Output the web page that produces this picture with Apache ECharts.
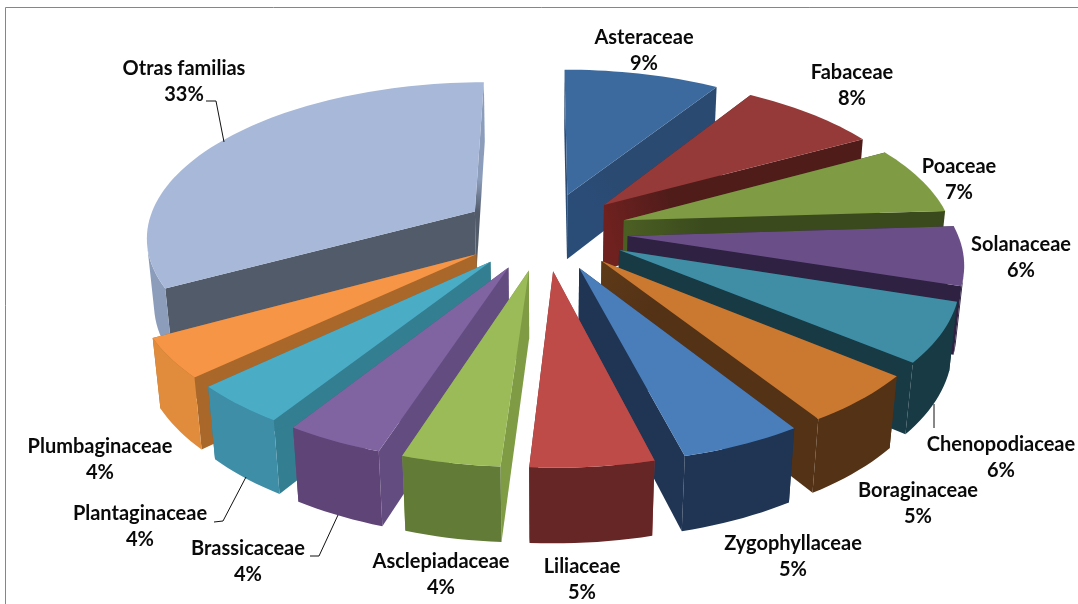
<!DOCTYPE html>
<html><head><meta charset="utf-8">
<style>html,body{margin:0;padding:0;background:#fff}#c{width:1078px;height:604px}</style>
<script src="https://cdn.jsdelivr.net/npm/echarts@6/dist/echarts.min.js"></script>
</head><body><div id="c"></div>
<script>
// ---- data
var families = ['Asteraceae','Fabaceae','Poaceae','Solanaceae','Chenopodiaceae','Boraginaceae','Zygophyllaceae','Liliaceae','Asclepiadaceae','Brassicaceae','Plantaginaceae','Plumbaginaceae','Otras familias'];
var percents = [9,8,7,6,6,5,5,5,4,4,4,4,33];
// ---- colours
var topColors   = ['#3d6a9e','#953a38','#7f9c45','#6a4e87','#3f8ea6','#cb7931','#4a7ebb','#be4b48','#9bbb59','#8064a2','#4bacc6','#f59545','#a8b8d8'];
var startColors = ['#2a4a72','#4f1c1a','#3a4a1d','#2f2141','#173a44','#543216','#1f3553','#a0403d','#7f9c45','#634d80','#337e90','#a9672a','#525b6a'];
var endColors   = ['#2a4a72','#4f1c1a','#3a4a1d','#2f2141','#173a44','#543216','#1f3553','#6b2524','#7f9c45','#634d80','#337e90','#a9672a','#8c9dbc'];
var apexColors  = ['#2a4d78','#6e211f','#4c5f23','#2f2141','#173a44','#5e3a18','#1f3553','#a0403d','#7f9c45','#634d80','#337e90','#a9672a','#525b6a'];
var outerColors = ['#2a4a72','#4f1c1a','#3a4a1d','#2f2141','#173a44','#543216','#1f3553','#662626','#627c38','#5f4577','#3f8ea8','#e08c3c','#8c9dbc'];
// ---- layout
var cx = 545, cy = 231, radius = 329, explode = 83, height = 76;
var tilt = 27.9 * Math.PI / 180, camDist = 1950;
var labelCenters = [[644,51],[852,86],[959,180],[1021,258],[1001,458],[918,504],[793,557],[582,580],[441,575],[248,562],[140,527],[100,460],[184,82]];
var leaders = [[[224,142],[216,101],[206,101]],[[934,404],[934,428]],[[246,477],[223,521],[214,522]],[[338,515],[319,556],[310,556]]];

function project(X, Y, Z) {
  var yv = Z * Math.sin(tilt) + Y * Math.cos(tilt);
  var d = camDist + Z * Math.cos(tilt) - Y * Math.sin(tilt);
  var s = camDist / d;
  return [cx + X * s, cy - yv * s];
}
var total = percents.reduce(function (a, b) { return a + b; }, 0);
var cum = 0;
var slices = percents.map(function (v, i) {
  var a0 = cum / total * 2 * Math.PI; cum += v;
  var a1 = cum / total * 2 * Math.PI;
  return { a0: a0, a1: a1, mid: (a0 + a1) / 2, i: i };
});
function poly(points, fill, z2) {
  return { type: 'polygon', z2: z2, shape: { points: points }, style: { fill: fill }, silent: true };
}
function signedArea(p) {
  var s = 0;
  for (var i = 0; i < p.length; i++) {
    var q = p[(i + 1) % p.length];
    s += p[i][0] * q[1] - q[0] * p[i][1];
  }
  return s;
}
function cutFace(apexTop, outerTop, outerBot, apexBot, outerCol, apexCol, z2) {
  var fill = outerCol === apexCol ? outerCol : {
    type: 'linear', global: true,
    x: apexTop[0], y: apexTop[1], x2: apexTop[0] + (outerTop[0] - apexTop[0]) * 0.25, y2: apexTop[1] + (outerTop[1] - apexTop[1]) * 0.25,
    colorStops: [{ offset: 0, color: apexCol }, { offset: 1, color: outerCol }]
  };
  return poly([apexTop, outerTop, outerBot, apexBot], fill, z2);
}
function buildSlice(idx) {
  var sl = slices[idx], ox = explode * Math.sin(sl.mid), oz = explode * Math.cos(sl.mid);
  var base = Math.round((1 - Math.cos(sl.mid)) * 1000) * 10;
  var pt = function (a, r, Y) { return project(ox + r * Math.sin(a), Y, oz + r * Math.cos(a)); };
  var kids = [];
  kids.push(cutFace(pt(0, 0, 0), pt(sl.a0, radius, 0), pt(sl.a0, radius, -height), pt(0, 0, -height), startColors[idx], apexColors[idx], base));
  kids.push(cutFace(pt(0, 0, 0), pt(sl.a1, radius, 0), pt(sl.a1, radius, -height), pt(0, 0, -height), endColors[idx], apexColors[idx], base + 1));
  var n = Math.max(6, Math.ceil((sl.a1 - sl.a0) / 0.03));
  var rim = [pt(0, 0, 0)], upper = [], lower = [];
  for (var k = 0; k <= n; k++) {
    var a = sl.a0 + (sl.a1 - sl.a0) * k / n;
    rim.push(pt(a, radius, 0));
    if (k < n) {
      var b = sl.a0 + (sl.a1 - sl.a0) * (k + 1) / n;
      var quad = [pt(a, radius, 0), pt(b, radius, 0), pt(b, radius, -height), pt(a, radius, -height)];
      if (signedArea(quad) < 0) {           // keep only the camera-facing part of the wall
        if (!upper.length) { upper.push(quad[0]); lower.push(quad[3]); }
        upper.push(quad[1]); lower.push(quad[2]);
      }
    }
  }
  if (upper.length) kids.push(poly(upper.concat(lower.reverse()), outerColors[idx], base + 2));
  kids.push(poly(rim, topColors[idx], base + 5));
  return kids;
}
var chart = echarts.init(document.getElementById('c'), null, { renderer: 'canvas' });
chart.setOption({
  backgroundColor: '#fff',
  animation: false,
  graphic: [
    { type: 'polyline', shape: { points: [[5.5, 604], [5.5, 7.5], [1078, 7.5]] }, style: { stroke: '#868686', lineWidth: 1, fill: null } }
  ].concat(leaders.map(function (pts) {
    return { type: 'polyline', z: 10, shape: { points: pts }, style: { stroke: '#111', lineWidth: 1, fill: null } };
  })),
  series: [{
    type: 'custom',
    coordinateSystem: 'none',
    data: families.map(function (f, i) { return { name: f, value: percents[i] }; }),
    renderItem: function (params) {
      var i = params.dataIndex;
      var kids = buildSlice(i);
      kids.push({
        type: 'text', z2: 99999,
        style: {
          x: labelCenters[i][0], y: labelCenters[i][1],
          text: families[i] + '\n' + percents[i] + '%',
          align: 'center', verticalAlign: 'middle',
          font: 'bold 20px Lato', lineHeight: 26, fill: '#0a0a0a'
        }
      });
      return { type: 'group', children: kids };
    }
  }]
});
</script></body></html>
